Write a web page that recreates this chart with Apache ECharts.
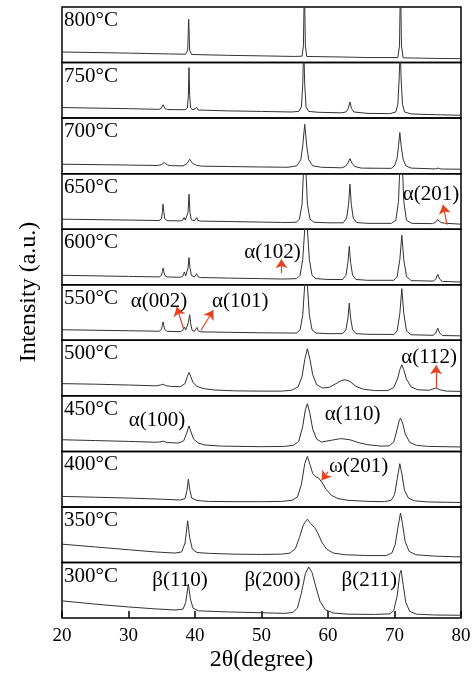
<!DOCTYPE html>
<html>
<head>
<meta charset="utf-8">
<script src="https://cdn.jsdelivr.net/npm/echarts@6/dist/echarts.min.js"></script>
<style>
html,body{margin:0;padding:0;background:#fff;}
#chart{width:474px;height:679px;}
</style>
</head>
<body>
<div id="chart"></div>
<script>
// Temperature labels, top panel first
const temps = ['800°C','750°C','700°C','650°C','600°C','550°C','500°C','450°C','400°C','350°C','300°C'];
const xTicks = [20, 30, 40, 50, 60, 70, 80];

// XRD patterns: [2θ, intensity (panel %)]
const t800 = [[20,19],[30,17],[36,15.5],[38.6,15],[38.9,22],[39.05,78],[39.2,22],[39.5,14.5],[45,13],[50,12],[55,11],[56.1,11.5],[56.3,30],[56.45,140],[56.6,30],[56.8,11],[62,10],[66,9],[70.5,9],[70.75,30],[70.9,150],[71.05,30],[71.3,8.5],[76,7.5],[80,7]];
const t750 = [[20,19],[30,17],[34.5,15.8],[34.9,17],[35.2,24],[35.5,17],[35.9,15.4],[38.5,15],[38.85,18],[39,40],[39.1,91],[39.2,40],[39.35,18],[39.7,14.6],[40.0,14.7],[40.25,19],[40.5,14.5],[45,13],[50,12],[54.5,11],[55.6,12],[56.0,20],[56.2,60],[56.35,130],[56.5,60],[56.7,20],[57.1,12],[58.5,10.5],[62,9.5],[62.7,11],[63.05,17],[63.3,29],[63.55,17],[63.9,11],[66,8.5],[69.3,8],[70.2,11],[70.5,25],[70.7,70],[70.85,130],[71.0,70],[71.2,25],[71.5,11],[72.5,7.5],[76.3,6],[76.6,8],[76.9,6],[80,5]];
const t700 = [[20,17],[30,15.5],[34.3,14.7],[34.9,16],[35.4,20],[35.9,15.5],[36.5,14.3],[38.2,14],[38.8,18],[39.2,26],[39.6,19],[40.2,15],[41,13.5],[45,12.8],[50,12],[54,11.5],[55.3,14],[55.9,25],[56.2,50],[56.5,89],[56.8,50],[57.1,25],[57.7,14],[59,11.5],[62,10.5],[62.6,13],[63.0,19],[63.3,27],[63.6,19],[64,13],[65,10],[69.5,9.5],[70.0,14],[70.4,28],[70.6,50],[70.8,74],[71.0,50],[71.3,26],[71.7,14],[72.5,10],[76.2,8.5],[76.6,10],[77,8.3],[80,8]];
const t650 = [[20,18],[30,16.5],[34.6,15.6],[34.95,19],[35.1,32],[35.2,45],[35.3,32],[35.45,19],[35.8,15.4],[37.8,15],[38.15,16],[38.35,21],[38.55,16.5],[38.75,17],[38.95,30],[39.1,63],[39.25,30],[39.45,17],[39.9,15],[40.1,17],[40.25,21],[40.4,16],[40.8,14.6],[45,13.8],[50,12.8],[53,12.2],[53.3,13.5],[53.6,12],[55.2,12.5],[55.7,18],[56.1,45],[56.3,100],[56.5,140],[56.7,100],[56.9,45],[57.3,18],[57.9,12.5],[60,11.5],[62.3,11.5],[62.8,20],[63.1,45],[63.3,81],[63.5,45],[63.8,20],[64.3,12],[66,10.5],[69.5,10.5],[70.2,16],[70.6,50],[70.8,110],[71.0,140],[71.2,110],[71.4,50],[71.8,16],[72.6,10.5],[75.7,10],[76.2,12.5],[76.45,17],[76.6,19],[76.75,17],[77.0,12],[77.3,10],[77.5,10.8],[77.7,9.6],[80,9]];
const t600 = [[20,17],[30,15],[34.6,14.1],[34.95,17],[35.1,24],[35.2,30],[35.3,24],[35.45,17],[35.8,14],[37.8,13.5],[38.15,15],[38.4,23],[38.6,16],[38.8,17],[38.95,30],[39.1,49],[39.25,30],[39.45,17],[39.9,14],[40.1,16],[40.25,20],[40.4,15],[40.8,13],[45,12],[50,11],[52.8,10.4],[53.1,11.5],[53.4,10.3],[55.3,11],[55.8,17],[56.2,45],[56.5,100],[56.7,140],[56.9,100],[57.2,45],[57.6,17],[58.2,11],[60,9.5],[62.2,9.5],[62.7,17],[63.0,40],[63.2,69],[63.4,40],[63.7,17],[64.2,9.5],[66,8],[69.9,8],[70.4,15],[70.8,45],[71.1,89],[71.4,45],[71.8,15],[72.5,7.5],[75.8,6.5],[76.2,10],[76.5,19],[76.8,10],[77.2,6],[80,5]];
const t550 = [[20,19],[30,17.2],[34.6,16.3],[34.95,19.5],[35.1,27],[35.2,33],[35.3,27],[35.45,19.5],[35.8,16.1],[37.8,15.7],[38.15,17.5],[38.4,24],[38.6,18.5],[38.8,19],[39.0,32],[39.2,46],[39.35,30],[39.55,18.5],[39.9,16],[40.1,18],[40.3,23],[40.5,17],[40.9,15.2],[45,14.4],[50,13.5],[55.3,13],[55.8,19],[56.2,45],[56.5,100],[56.7,140],[56.9,100],[57.2,45],[57.6,19],[58.2,13],[60,12],[62.2,12],[62.7,19],[63.0,40],[63.2,67],[63.4,40],[63.7,19],[64.2,12],[66,10.8],[69.9,10.5],[70.4,17],[70.8,48],[71.1,93],[71.4,48],[71.8,17],[72.5,10],[75.8,9],[76.2,13],[76.5,22],[76.8,13],[77.2,8.6],[80,8]];
const t500 = [[20,22],[25,21],[30,19.5],[34.2,18],[34.8,19.5],[35.2,21],[35.6,18.5],[36.3,17],[37.8,16.5],[38.5,22],[38.85,35],[39.1,42],[39.35,35],[39.7,24],[40.3,17],[41.3,13],[43,10.5],[46,9],[50,8.5],[53,8.5],[54.5,10],[55.5,16],[56.1,35],[56.5,65],[56.9,85],[57.3,65],[57.7,38],[58.3,20],[59.2,14],[60.2,15.5],[61.2,22],[62.0,27.5],[62.6,29],[63.3,26],[64.2,17],[65.3,12],[67,9.5],[69,9.5],[69.9,15],[70.5,32],[70.8,47],[71.1,56],[71.4,47],[71.8,30],[72.5,16],[73.5,11],[75.2,10],[75.9,13],[76.3,14],[76.8,11],[77.8,8.5],[80,8]];
const t450 = [[20,21],[25,19.5],[30,18],[34,16.5],[34.7,17],[35.2,18.5],[35.8,16],[37.5,15],[38.3,19],[38.75,33],[39.1,46],[39.4,35],[39.8,22],[40.5,15],[41.5,11.5],[44,9.5],[50,8.5],[53.5,9],[54.8,11],[55.6,18],[56.2,45],[56.6,75],[56.9,86],[57.25,70],[57.7,40],[58.3,22],[59,17],[60.5,20],[61.9,23],[63.3,21],[64.5,16],[66,12],[68,9.5],[69.2,10],[69.9,17],[70.4,40],[70.7,55],[70.9,60],[71.2,52],[71.6,32],[72.3,16],[73.3,11],[75,9],[80,8]];
const t400 = [[20,19],[25,17.5],[30,16],[35,14],[37.8,12.5],[38.5,15],[38.8,30],[39.0,50],[39.2,32],[39.5,16],[40.3,11.5],[42,10],[46,9.5],[50,9.5],[53,10],[54.6,12],[55.4,18],[56.0,40],[56.5,78],[56.9,91],[57.3,76],[57.7,60],[58.2,54],[58.6,52],[59.1,44],[59.7,32],[60.5,21],[61.5,15],[63,12],[66,10],[68.5,9.5],[69.5,12],[70.0,22],[70.4,50],[70.8,78],[71.1,60],[71.5,30],[72.1,16],[73,11],[75,9],[80,8]];
const t350 = [[20,33],[25,28],[30,23],[34,19],[37,17],[38.0,19],[38.5,35],[38.9,75],[39.2,45],[39.6,24],[40.3,18],[42,16.5],[46,15],[50,14.5],[53,15],[54.3,17],[55.1,25],[55.7,45],[56.3,68],[56.9,78],[57.4,70],[58.0,63],[58.5,52],[59.1,36],[59.8,24],[60.8,17],[62.5,14],[66,12.5],[68.8,12.5],[69.6,17],[70.1,32],[70.5,62],[70.9,89],[71.2,70],[71.6,38],[72.2,20],[73.2,14],[76,11.5],[80,10]];
const t300 = [[20,31],[25,25],[30,20],[34,16.5],[37,14.5],[38.2,16],[38.6,28],[39.0,61],[39.3,35],[39.7,18],[40.5,13],[45,11],[50,9.5],[53.5,8.5],[54.7,10],[55.4,18],[56.0,45],[56.6,80],[57.1,92],[57.6,82],[58.2,55],[58.8,30],[59.6,15],[60.8,9],[63,7],[67,6.5],[69.3,7.5],[69.9,14],[70.4,40],[70.8,80],[71.0,86],[71.3,60],[71.7,28],[72.3,12],[73.3,7],[76,5.5],[80,5]];
const patterns = [t800,t750,t700,t650,t600,t550,t500,t450,t400,t350,t300];

// Peak annotations: panel index, label, label position [2θ, %], arrow [from, to] or null
const annPanel = [3, 4, 5, 5, 6, 7, 7, 8, 10, 10, 10];
const annText  = ['α(201)','α(102)','α(002)','α(101)','α(112)','α(100)','α(110)','ω(201)','β(110)','β(200)','β(211)'];
const annPos   = [[75.5,63],[51.65,58],[34.6,70],[46.8,70],[75.2,69],[34.3,55],[63.7,66],[64.6,73],[37.75,68],[51.65,68],[66.2,68]];
const annArrow = [[[77.9,8],[77.3,44]],[[53.0,21],[53.0,46]],[[38.25,22],[37.25,60]],[[40.9,18],[42.75,54]],[[76.25,14],[76.25,55]],null,null,[[60.0,63],[59.05,48]],null,null,null];

const FONT = 'Liberation Serif, Times New Roman, serif';
const N = temps.length;
const TOP = 7, PH = 55.55, LEFT = 62, RIGHT = 13;

const grids = [], xAxes = [], yAxes = [], series = [], graphics = [];
for (let i = 0; i < N; i++) {
  const last = i === N - 1;
  grids.push({left: LEFT, right: RIGHT, top: TOP + i * PH, height: PH, show: true,
    borderColor: '#000', borderWidth: 1.5, backgroundColor: 'transparent', containLabel: false});
  xAxes.push({gridIndex: i, type: 'value', min: 20, max: 80, interval: 10,
    axisLine: {show: false}, splitLine: {show: false},
    axisTick: {show: last, inside: true, length: 7, lineStyle: {color: '#000', width: 1.5}},
    axisLabel: {show: last, color: '#000', fontFamily: FONT, fontSize: 19, margin: 8,
      formatter: v => xTicks.includes(v) ? String(v) : ''},
    name: last ? '2θ(degree)' : '', nameLocation: 'middle', nameGap: 30,
    nameTextStyle: {color: '#000', fontFamily: FONT, fontSize: 24}});
  yAxes.push({gridIndex: i, type: 'value', min: 0, max: 100, show: false});

  const mp = [], ml = [];
  annPanel.forEach((p, k) => {
    if (p !== i) return;
    mp.push({coord: annPos[k], value: annText[k]});
    if (annArrow[k]) ml.push([{coord: annArrow[k][0]}, {coord: annArrow[k][1]}]);
  });
  series.push({type: 'line', xAxisIndex: i, yAxisIndex: i, data: patterns[i],
    showSymbol: false, symbol: 'none', clip: true, animation: false, silent: true,
    lineStyle: {color: '#333', width: 1},
    markPoint: mp.length ? {symbol: 'circle', symbolSize: 1, silent: true, animation: false,
      itemStyle: {color: 'rgba(0,0,0,0)'},
      label: {show: true, position: 'inside', color: '#000', fontFamily: FONT, fontSize: 21,
        formatter: p => p.value},
      data: mp} : undefined,
    markLine: ml.length ? {symbol: ['none', 'arrow'], symbolSize: 9, silent: true, animation: false,
      label: {show: false}, lineStyle: {color: '#e8401c', type: 'solid', width: 1.2},
      itemStyle: {color: '#e8401c'},
      data: ml} : undefined
  });
  graphics.push({type: 'text', left: 64, top: TOP + i * PH + 3,
    style: {text: temps[i], fill: '#000', font: '21px ' + FONT}});
}
graphics.push({type: 'text', x: 29, y: 292, rotation: Math.PI / 2,
  style: {text: 'Intensity (a.u.)', fill: '#000', font: '24px ' + FONT, textAlign: 'center', textVerticalAlign: 'middle'}});

const chart = echarts.init(document.getElementById('chart'), null, {renderer: 'canvas'});
chart.setOption({animation: false, backgroundColor: '#fff', grid: grids, xAxis: xAxes, yAxis: yAxes,
  series: series, graphic: graphics});
</script>
</body>
</html>
